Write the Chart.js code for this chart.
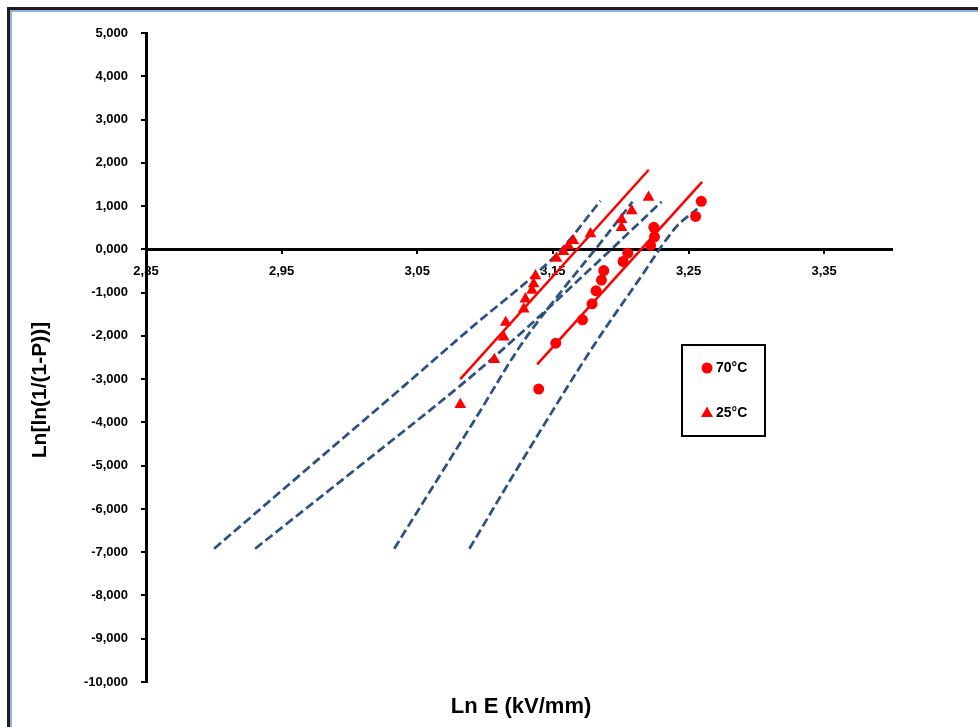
<!DOCTYPE html>
<html>
<head>
<meta charset="utf-8">
<script src="https://cdn.jsdelivr.net/npm/chart.js@4.4.1/dist/chart.umd.min.js"></script>
<style>
  body { margin: 0; background: #fff; overflow: hidden; }
  #frame { position: absolute; left: 7px; top: 7px; width: 1100px; height: 900px;
           border-left: 3px solid #1e1e1e; border-top: 3px solid #1e1e1e; }
  #frame div { width: 100%; height: 100%; border-left: 2px solid #8db3e2; border-top: 2px solid #8db3e2; }
  #myChart { position: absolute; left: 0; top: 0; }
</style>
</head>
<body>
<div id="frame"><div></div></div>
<canvas id="myChart" width="978" height="727"></canvas>
<script>
// measured points (ln E, ln(ln(1/(1-P))))
let hotLabel = "70°C";
let hotX = [3.1395, 3.1521, 3.1718, 3.1789, 3.1818, 3.1858, 3.1875, 3.2017, 3.2052, 3.2220, 3.2249, 3.2244, 3.2552, 3.2594];
let hotY = [-3.23, -2.17, -1.63, -1.26, -0.96, -0.71, -0.49, -0.28, -0.09, 0.09, 0.29, 0.51, 0.76, 1.11];

let coldLabel = "25°C";
let coldX = [3.0817, 3.1068, 3.1137, 3.1152, 3.1285, 3.1297, 3.1346, 3.1358, 3.1371, 3.1526, 3.1578, 3.1614, 3.1651, 3.1777, 3.2006, 3.2006, 3.2081, 3.2205];
let coldY = [-3.59, -2.55, -2.03, -1.69, -1.38, -1.15, -0.95, -0.80, -0.61, -0.21, -0.05, 0.08, 0.20, 0.36, 0.50, 0.69, 0.89, 1.20];

// fitted lines
let hotFitX = [3.1384, 3.2600];
let hotFitY = [-2.66, 1.56];
let coldFitX = [3.0817, 3.2207];
let coldFitY = [-3.00, 1.84];

// confidence bounds (dashed)
let boundAX = [2.9002, 2.9637, 3.0301, 3.0891, 3.1504, 3.1851];
let boundAY = [-6.92, -5.21, -3.43, -1.83, -0.19, 1.12];
let boundBX = [2.9304, 3.0079, 3.0817, 3.1260, 3.1777, 3.2301];
let boundBY = [-6.92, -5.00, -3.15, -1.95, -0.45, 1.10];
let boundCX = [3.0330, 3.0670, 3.0965, 3.1260, 3.1555, 3.1851, 3.2087];
let boundCY = [-6.92, -5.21, -3.73, -2.23, -1.00, 0.15, 1.10];
let boundDX = [3.0884, 3.1260, 3.1777, 3.2146, 3.2404, 3.2565];
let boundDY = [-6.92, -4.95, -2.34, -0.65, 0.50, 0.94];

let xTicks = [2.85, 2.95, 3.05, 3.15, 3.25, 3.35];
let xTitle = "Ln E (kV/mm)";
let yTitle = "Ln[ln(1/(1-P))]";

const RED = "#ff0000";
const BLUE = "#2c5185";

function pts(xs, ys) {
  return xs.map((x, i) => ({ x: x, y: ys[i] }));
}

function dashed(xs, ys) {
  return {
    data: pts(xs, ys),
    showLine: true,
    borderColor: BLUE,
    borderWidth: 2.75,
    borderDash: [9, 4],
    pointRadius: 0,
    tension: 0.35,
    fill: false,
  };
}

function comma(v, d) {
  return v.toFixed(d).replace(".", ",");
}

// axis titles and the boxed legend
const extras = {
  id: "extras",
  afterDraw(chart) {
    const ctx = chart.ctx;
    ctx.save();
    ctx.fillStyle = "#000";
    ctx.textBaseline = "middle";

    ctx.font = "bold 22px 'Liberation Sans'";
    ctx.textAlign = "center";
    ctx.fillText(xTitle, 521, 707);

    ctx.save();
    ctx.translate(40, 390);
    ctx.rotate(-Math.PI / 2);
    ctx.font = "bold 21px 'Liberation Sans'";
    ctx.fillText(yTitle, 0, 0);
    ctx.restore();

    ctx.lineWidth = 2;
    ctx.strokeStyle = "#000";
    ctx.strokeRect(682, 345, 83, 91);

    ctx.fillStyle = RED;
    ctx.beginPath();
    ctx.arc(707, 368, 5.5, 0, Math.PI * 2);
    ctx.fill();
    ctx.beginPath();
    ctx.moveTo(707, 406.5);
    ctx.lineTo(713, 417);
    ctx.lineTo(701, 417);
    ctx.closePath();
    ctx.fill();

    ctx.fillStyle = "#000";
    ctx.textAlign = "left";
    ctx.font = "bold 14px 'Liberation Sans'";
    ctx.fillText(hotLabel, 716, 368);
    ctx.fillText(coldLabel, 716, 413);
    ctx.restore();
  },
};

window.onload = function () {
  Chart.defaults.font.family = "'Liberation Sans', Arial, sans-serif";
  Chart.defaults.color = "#000";
  let ctx = document.getElementById("myChart").getContext("2d");
  new Chart(ctx, {
    type: "scatter",
    data: {
      datasets: [
        { label: hotLabel, data: pts(hotX, hotY), pointStyle: "circle", pointRadius: 5.5,
          backgroundColor: RED, borderWidth: 0 },
        { label: coldLabel, data: pts(coldX, coldY), pointStyle: "triangle", pointRadius: 6.8,
          backgroundColor: RED, borderWidth: 0 },
        { data: pts(hotFitX, hotFitY), showLine: true, borderColor: RED, borderWidth: 2.5, pointRadius: 0 },
        { data: pts(coldFitX, coldFitY), showLine: true, borderColor: RED, borderWidth: 2.5, pointRadius: 0 },
        dashed(boundAX, boundAY),
        dashed(boundBX, boundBY),
        dashed(boundCX, boundCY),
        dashed(boundDX, boundDY),
      ],
    },
    options: {
      responsive: false,
      devicePixelRatio: 1,
      animation: false,
      layout: { padding: { left: 0, top: 33, right: 86, bottom: 45 } },
      plugins: { legend: { display: false }, tooltip: { enabled: false } },
      scales: {
        x: {
          type: "linear",
          position: { y: 0 },
          min: 2.85,
          max: 3.4,
          afterBuildTicks: (s) => { s.ticks = xTicks.map((v) => ({ value: v })); },
          afterFit: (s) => { s.height = 0; },
          grid: { drawOnChartArea: false, color: "#000", lineWidth: 2, tickLength: 3 },
          border: { color: "#000", width: 3 },
          ticks: { padding: 11, font: { size: 13, weight: "bold" }, callback: (v) => comma(v, 2) },
        },
        y: {
          type: "linear",
          min: -10,
          max: 5,
          afterFit: (s) => { s.width = 146; },
          grid: { drawOnChartArea: false, color: "#000", lineWidth: 2, tickLength: 5 },
          border: { color: "#000", width: 3 },
          ticks: { stepSize: 1, padding: 13, font: { size: 13, weight: "bold" }, callback: (v) => comma(v, 3) },
        },
      },
    },
    plugins: [extras],
  });
};
</script>
</body>
</html>
